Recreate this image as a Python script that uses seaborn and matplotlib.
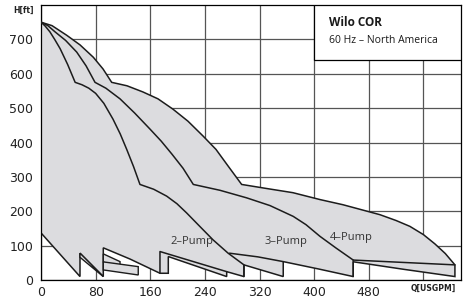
import matplotlib
matplotlib.use("Agg")
import matplotlib.pyplot as plt
import matplotlib.transforms as mtransforms
from matplotlib.patches import Rectangle
import numpy as np
import seaborn as sns

# Q in USGPM, H in ft

# outer envelope (4-pump max curve)
c_q = [0, 16.1, 37.6, 57.1, 76.6, 90.8, 103.5, 125.9, 149.3, 171.3, 193.2, 215.2,
       237.2, 256.2, 273.8, 293.8, 330.9, 368.9, 408.5, 442.1, 496.3, 520, 540.2,
       560, 576.8, 592, 606.1]
c_h = [750, 740, 712, 684, 648, 614, 575, 565, 547, 527, 497, 462,
       419, 380, 332, 278, 266, 254, 234, 219, 190, 173, 156,
       132, 105, 77, 44]

# lower edge of the field, right to left (saw-tooth of the min-speed curves)
base_q = [606.1, 531.4, 457.2, 457.2, 406.6, 354.7, 354.7, 297.2, 297.2, 271.9, 271.9,
          186.4, 186.4, 174.2, 130.3, 91.2, 91.2, 57.1, 57.1, 0]
base_h = [10, 31, 53, 10, 32, 53.5, 10, 44, 10, 24.3, 10,
          68.2, 19.6, 19.6, 61, 93.6, 10, 78, 10, 137]

# 2-pump max curve
a_q = [0, 6, 13, 20, 28, 39, 50, 60, 70, 80, 92, 105.4, 116, 125.5, 135.5, 144.9,
       165, 184, 199, 213.3, 232, 251.8, 274, 297.2, 297.2]
a_h = [750, 739, 722, 700, 673, 627, 575, 568, 558, 543, 514, 468, 425, 380, 330, 278,
       264, 244, 222, 195, 157, 117, 78, 44, 10]
# 3-pump max curve
b_q = [0, 10, 20.5, 36, 52.3, 66, 79.1, 95, 115.7, 137, 159.6, 176, 191.8, 208, 223,
       262, 301.1, 335.3, 369.4, 388, 408.5, 432, 457.2, 457.2]
b_h = [750, 740, 722, 697, 663, 623, 575, 558, 527, 486, 439, 404, 366, 325, 278,
       261, 239, 216.5, 185, 161, 127, 93, 58, 10]

# inner edges
l3_q = [276, 317.6, 354.7]
l3_h = [78, 67.3, 53.5]
l4_q = [457.2, 606.1]
l4_h = [58, 44]
d_q = [271.9, 174.2, 174.2]
d_h = [24.3, 82.8, 19.6]

# small min-speed slivers
flag_a_q = [57.1, 91.2, 57.1]
flag_a_h = [78, 10, 66]
flag_b_q = [91.2, 115.7, 115.7, 91.2]
flag_b_h = [76, 53.5, 23.4, 52.7]
flag_c_q = [91.2, 142.4, 142.4, 91.2]
flag_c_h = [52.7, 38.9, 14.6, 29.3]

pump_labels = ["2–Pump", "3–Pump", "4–Pump"]
pump_label_q = [220.6, 358.7, 453.8]
pump_label_h = [111, 111, 125]

x_ticks = [0, 80, 160, 240, 320, 400, 480, 560]
x_tick_labels = ["0", "80", "160", "240", "320", "400", "480", ""]
y_ticks = [0, 100, 200, 300, 400, 500, 600, 700]

FILL = "#dcdcdf"
EDGE = "#1c1c1c"

sns.set_theme(style="white")
plt.rcParams["font.family"] = ["DejaVu Sans"]

fig = plt.figure(figsize=(4.69, 2.98), dpi=100)
ax = fig.add_axes([41 / 469, 18 / 298, 420 / 469, 275 / 298])

ax.set_xlim(0, 615)
ax.set_ylim(0, 800)
ax.set_xticks(x_ticks)
ax.set_xticklabels(x_tick_labels)
ax.set_yticks(y_ticks)
ax.set_axisbelow(True)
ax.grid(True, color="#555555", lw=0.9)
ax.tick_params(length=0, labelsize=9, colors="#222222")
ax.tick_params(axis="x", pad=4)
ax.tick_params(axis="y", pad=5.5)
for s in ax.spines.values():
    s.set_color("black")
    s.set_linewidth(0.9)

# whole operating field
ax.fill(np.r_[c_q, base_q], np.r_[c_h, base_h], facecolor=FILL, edgecolor=EDGE,
        lw=1.1, joinstyle="miter", zorder=2)

for fq, fh in [(flag_a_q, flag_a_h), (flag_b_q, flag_b_h), (flag_c_q, flag_c_h)]:
    ax.fill(fq, fh, facecolor=FILL, edgecolor=EDGE, lw=1.0, zorder=3)

for lq, lh in [(a_q, a_h), (b_q, b_h), (l3_q, l3_h), (l4_q, l4_h), (d_q, d_h)]:
    sns.lineplot(x=lq, y=lh, sort=False, estimator=None, ax=ax, color=EDGE, lw=1.1, zorder=3)

for txt, q, h in zip(pump_labels, pump_label_q, pump_label_h):
    ax.text(q, h, txt, ha="center", va="center", fontsize=8, color="#333333",
            family=["Open Sans", "DejaVu Sans"], zorder=4)

# title box
ax.add_patch(Rectangle((400, 640), 215, 160, facecolor="white", edgecolor="black",
                       lw=0.9, zorder=5))
ax.text(421, 749, "Wilo COR", fontsize=8.5, fontweight="bold", va="center",
        family=["Open Sans", "DejaVu Sans"], color="#1a1a1a", zorder=6)
ax.text(421, 697, "60 Hz – North America", fontsize=7.5, va="center",
        family=["Open Sans", "DejaVu Sans"], color="#1a1a1a", zorder=6)

# axis titles
ytrans = mtransforms.blended_transform_factory(ax.transAxes, ax.transData)
ax.text(-0.018, 785, "H[ft]", transform=ytrans, ha="right", va="center",
        fontsize=5.6, fontweight="bold", color="#222222")
xtrans = mtransforms.blended_transform_factory(ax.transData, ax.transAxes)
ax.text(575, -0.03, "Q[USGPM]", transform=xtrans, ha="center", va="center",
        fontsize=5.6, fontweight="bold", color="#222222")

ax.set_xlabel("")
ax.set_ylabel("")
fig.savefig("out.png", dpi=100)
